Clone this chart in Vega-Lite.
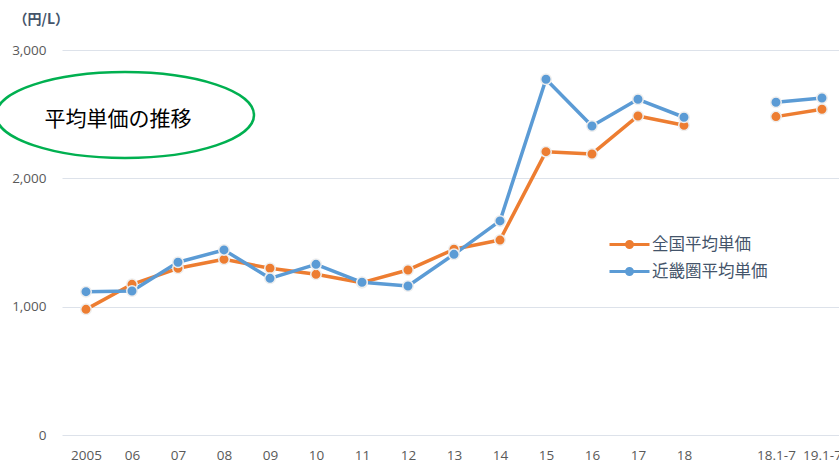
{
  "$schema": "https://vega.github.io/schema/vega-lite/v6.json",
  "width": 777,
  "height": 385,
  "autosize": {"type": "none"},
  "padding": {"left": 62, "top": 50, "right": 0, "bottom": 28},
  "background": "white",
  "config": {
    "view": {"stroke": null},
    "font": "Open Sans",
    "axis": {"labelColor": "#595959", "labelFontSize": 13.5, "labelFont": "Open Sans", "domain": false, "ticks": false, "gridColor": "#dde2ea", "gridWidth": 1}
  },
  "datasets": {
    "prices": [
      {"期間": "2005", "系列": "全国平均単価", "区分": "年", "単価": 979},
      {"期間": "06", "系列": "全国平均単価", "区分": "年", "単価": 1174},
      {"期間": "07", "系列": "全国平均単価", "区分": "年", "単価": 1299},
      {"期間": "08", "系列": "全国平均単価", "区分": "年", "単価": 1369},
      {"期間": "09", "系列": "全国平均単価", "区分": "年", "単価": 1299},
      {"期間": "10", "系列": "全国平均単価", "区分": "年", "単価": 1252},
      {"期間": "11", "系列": "全国平均単価", "区分": "年", "単価": 1187},
      {"期間": "12", "系列": "全国平均単価", "区分": "年", "単価": 1286},
      {"期間": "13", "系列": "全国平均単価", "区分": "年", "単価": 1447},
      {"期間": "14", "系列": "全国平均単価", "区分": "年", "単価": 1519},
      {"期間": "15", "系列": "全国平均単価", "区分": "年", "単価": 2208},
      {"期間": "16", "系列": "全国平均単価", "区分": "年", "単価": 2190},
      {"期間": "17", "系列": "全国平均単価", "区分": "年", "単価": 2486},
      {"期間": "18", "系列": "全国平均単価", "区分": "年", "単価": 2413},
      {"期間": "18.1-7", "系列": "全国平均単価", "区分": "1-7月", "単価": 2481},
      {"期間": "19.1-7", "系列": "全国平均単価", "区分": "1-7月", "単価": 2538},
      {"期間": "2005", "系列": "近畿圏平均単価", "区分": "年", "単価": 1117},
      {"期間": "06", "系列": "近畿圏平均単価", "区分": "年", "単価": 1122},
      {"期間": "07", "系列": "近畿圏平均単価", "区分": "年", "単価": 1346},
      {"期間": "08", "系列": "近畿圏平均単価", "区分": "年", "単価": 1442},
      {"期間": "09", "系列": "近畿圏平均単価", "区分": "年", "単価": 1221},
      {"期間": "10", "系列": "近畿圏平均単価", "区分": "年", "単価": 1330},
      {"期間": "11", "系列": "近畿圏平均単価", "区分": "年", "単価": 1190},
      {"期間": "12", "系列": "近畿圏平均単価", "区分": "年", "単価": 1161},
      {"期間": "13", "系列": "近畿圏平均単価", "区分": "年", "単価": 1408},
      {"期間": "14", "系列": "近畿圏平均単価", "区分": "年", "単価": 1668},
      {"期間": "15", "系列": "近畿圏平均単価", "区分": "年", "単価": 2772},
      {"期間": "16", "系列": "近畿圏平均単価", "区分": "年", "単価": 2408},
      {"期間": "17", "系列": "近畿圏平均単価", "区分": "年", "単価": 2616},
      {"期間": "18", "系列": "近畿圏平均単価", "区分": "年", "単価": 2476},
      {"期間": "18.1-7", "系列": "近畿圏平均単価", "区分": "1-7月", "単価": 2593},
      {"期間": "19.1-7", "系列": "近畿圏平均単価", "区分": "1-7月", "単価": 2626}
    ],
    "annotation": [
      {"期間": "06", "単価": 2494, "label": "平均単価の推移"}
    ]
  },
  "encoding": {
    "x": {
      "field": "期間", "type": "ordinal",
      "scale": {"type": "point", "domain": ["2005","06","07","08","09","10","11","12","13","14","15","16","17","18"," ","18.1-7","19.1-7"], "padding": 0.446, "align": 0.585},
      "axis": {"title": null, "labelAngle": 0, "labelPadding": 13, "grid": false}
    },
    "y": {
      "field": "単価", "type": "quantitative",
      "scale": {"domain": [0, 3000], "nice": false},
      "axis": {"values": [0, 1000, 2000, 3000], "format": ",.0f", "labelPadding": 16, "grid": true,
        "title": "（円/L）", "titleAngle": 0, "titleAlign": "left", "titleBaseline": "middle", "titleX": -49, "titleY": -31,
        "titleFontSize": 14, "titleFontWeight": "bold", "titleColor": "#44546a", "titleFont": "Noto Sans CJK JP"}
    }
  },
  "layer": [
    {
      "data": {"name": "prices"},
      "mark": {"type": "line", "strokeWidth": 3.5, "strokeJoin": "round"},
      "encoding": {
        "color": {
          "field": "系列", "type": "nominal",
          "scale": {"domain": ["全国平均単価", "近畿圏平均単価"], "range": ["#ED7D31", "#5B9BD5"]},
          "legend": {
            "title": null, "orient": "none", "legendX": 556, "legendY": 183,
            "symbolType": "M -2 0 L 2 0 M 0.3 0 A 0.3 0.3 0 1 1 -0.3 0 A 0.3 0.3 0 1 1 0.3 0",
            "symbolSize": 400, "symbolStrokeWidth": 3, "labelOffset": 11, "rowPadding": 6,
            "labelFontSize": 16.5, "labelColor": "#44546a", "labelFont": "Noto Sans CJK JP",
            "encode": {"symbols": {"update": {"fill": {"scale": "color", "field": "value"}, "stroke": {"scale": "color", "field": "value"}, "opacity": {"value": 1}}}}
          }
        },
        "detail": {"field": "区分"}
      }
    },
    {
      "data": {"name": "prices"},
      "mark": {"type": "point", "filled": true, "size": 110, "stroke": "#eeeeee", "strokeWidth": 1.5, "opacity": 1},
      "encoding": {
        "color": {"field": "系列", "type": "nominal", "scale": {"domain": ["全国平均単価", "近畿圏平均単価"], "range": ["#ED7D31", "#5B9BD5"]}}
      }
    },
    {
      "data": {"name": "annotation"},
      "mark": {"type": "point", "shape": "M -1 0 A 1 0.333 0 1 1 1 0 A 1 0.333 0 1 1 -1 0 Z", "size": 66564, "filled": false, "stroke": "#00B050", "strokeWidth": 2.5, "xOffset": -7, "opacity": 1},
      "encoding": {}
    },
    {
      "data": {"name": "annotation"},
      "mark": {"type": "text", "fontSize": 21, "font": "Noto Sans CJK JP", "color": "#000000", "xOffset": -14, "dy": 5, "align": "center", "baseline": "middle"},
      "encoding": {"text": {"field": "label"}}
    }
  ]
}
